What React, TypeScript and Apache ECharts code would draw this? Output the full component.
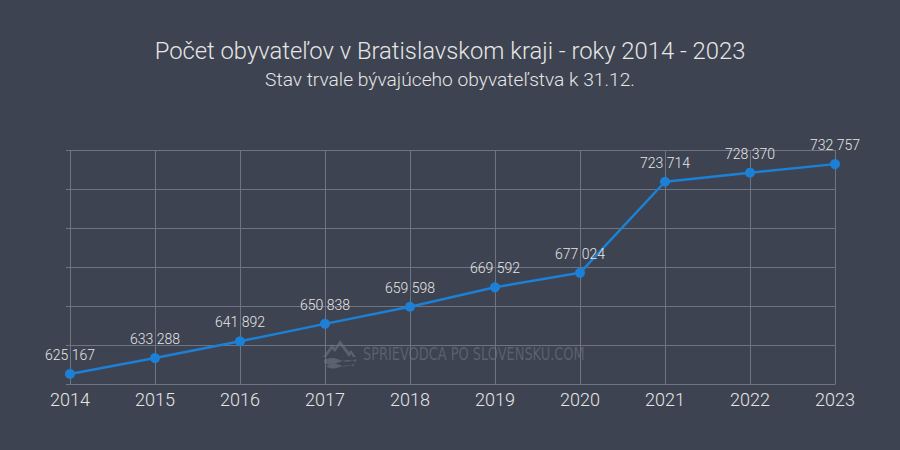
import React, { useEffect, useRef } from "react";
import * as echarts from "echarts";

const years = ["2014", "2015", "2016", "2017", "2018", "2019", "2020", "2021", "2022", "2023"];
const population = [625167, 633288, 641892, 650838, 659598, 669592, 677024, 723714, 728370, 732757];
const titleText = "Počet obyvateľov v Bratislavskom kraji - roky 2014 - 2023";
const subtitleText = "Stav trvale bývajúceho obyvateľstva k 31.12.";
const watermarkText = "SPRIEVODCA PO SLOVENSKU.COM";

const logoPath =
  "M0,17 L9,4 L12,8 L17,0 L26,12 L28,10 L33,17 L30,17 L28,14 L26,17 L17,5 L12,12 L9,9 L3,17 Z " +
  "M1,20 Q9,16 17,20 T33,19 L33,22 Q25,18 17,22 T1,23 Z " +
  "M4,25 Q11,22 17,25 T31,24 L31,26 Q24,24 17,27 T4,27 Z";

let registered = false;
function ensureShape() {
  if (registered) return;
  echarts.graphic.registerShape("logo", echarts.graphic.extendPath(logoPath, {}) as any);
  registered = true;
}

const fmt = (v: number) => String(v).replace(/\B(?=(\d{3})+(?!\d))/g, " ");

export default function App() {
  const ref = useRef<HTMLDivElement>(null);
  useEffect(() => {
    if (!ref.current) return;
    ensureShape();
    const chart = echarts.init(ref.current, null, { renderer: "svg" });
    const gridColor = "#6e7482";
    const textColor = "#e6e6e6";
    chart.setOption({
      animation: false,
      backgroundColor: "#3d4350",
      textStyle: { fontFamily: "Roboto" },
      title: [
        {
          text: titleText,
          left: "center",
          top: 34,
          textStyle: { color: textColor, fontSize: 23.8, fontWeight: 300, fontFamily: "Roboto" },
        },
        {
          text: subtitleText,
          left: "center",
          top: 65,
          textStyle: { color: textColor, fontSize: 19.2, fontWeight: 300, fontFamily: "Roboto" },
        },
      ],
      graphic: [
        {
          type: "logo",
          x: 323,
          y: 340,
          scaleX: 1,
          scaleY: 1,
          z: 0,
          style: { fill: "#5b616d" },
        },
        {
          type: "text",
          x: 363,
          y: 354,
          scaleX: 0.8,
          scaleY: 1,
          z: 0,
          style: {
            text: watermarkText,
            fill: "#5b616d",
            font: "18px 'DejaVu Sans Condensed', sans-serif",
            verticalAlign: "middle",
          },
        },
      ],
      grid: { left: 70, right: 65, top: 150, bottom: 66 },
      xAxis: {
        type: "category",
        data: years,
        boundaryGap: false,
        axisLine: { show: true, lineStyle: { color: gridColor, width: 1 } },
        axisTick: { show: false },
        axisLabel: { color: textColor, fontSize: 18, fontWeight: 300, margin: 6, fontFamily: "Roboto" },
        splitLine: { show: true, lineStyle: { color: gridColor, width: 1 } },
      },
      yAxis: {
        type: "value",
        min: 620000,
        max: 740000,
        interval: 20000,
        axisLine: { show: false },
        axisTick: { show: true, length: 4, lineStyle: { color: gridColor } },
        axisLabel: { show: false },
        splitLine: { show: true, lineStyle: { color: gridColor, width: 1 } },
      },
      series: [
        {
          type: "line",
          data: population,
          z: 5,
          symbol: "circle",
          symbolSize: 10,
          lineStyle: { color: "#1b80d6", width: 2.5 },
          itemStyle: { color: "#1b80d6" },
          label: {
            show: true,
            position: "top",
            distance: 7,
            color: textColor,
            fontSize: 14,
            fontWeight: 300,
            fontFamily: "Roboto",
            formatter: (p: any) => fmt(p.value),
          },
        },
      ],
    });
    return () => chart.dispose();
  }, []);
  return <div ref={ref} style={{ width: 900, height: 450, position: "absolute", left: 0, top: 0 }} />;
}
